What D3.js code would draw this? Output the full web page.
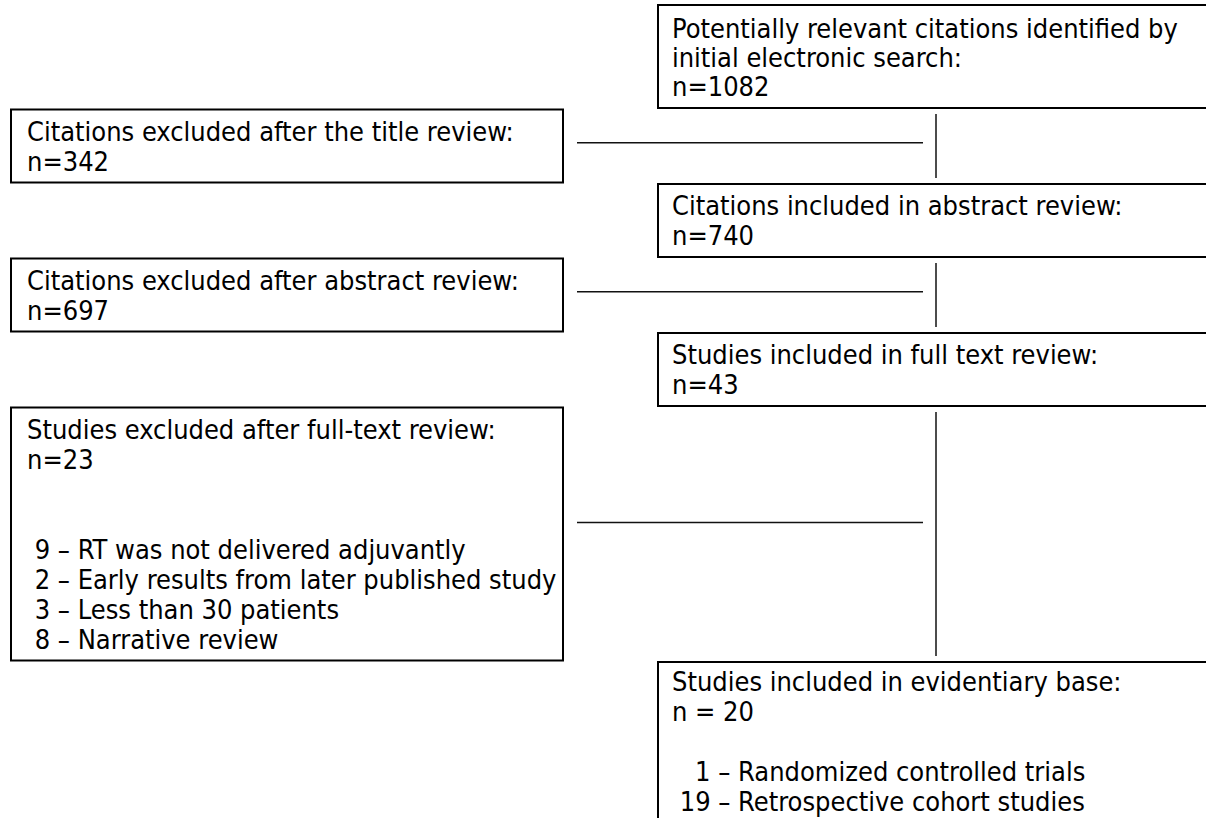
<!DOCTYPE html>
<html>
<head>
<meta charset="utf-8">
<script src="https://cdn.jsdelivr.net/npm/d3@7"></script>
<style>
  html, body { margin: 0; padding: 0; background: #fff; overflow: hidden; }
  svg { display: block; }
  text { font-family: "DejaVu Sans Condensed", "DejaVu Sans", sans-serif; fill: #000; white-space: pre; }
</style>
</head>
<body>
<div id="chart"></div>
<script>
// steps of the flow, top to bottom
const stepSide = ["right", "left", "right", "left", "right", "left", "right"];
const stepLines = [
  ["Potentially relevant citations identified by", "initial electronic search:", "n=1082"],
  ["Citations excluded after the title review:", "n=342"],
  ["Citations included in abstract review:", "n=740"],
  ["Citations excluded after abstract review:", "n=697"],
  ["Studies included in full text review:", "n=43"],
  ["Studies excluded after full-text review:", "n=23", "", "",
   " 9 – RT was not delivered adjuvantly",
   " 2 – Early results from later published study",
   " 3 – Less than 30 patients",
   " 8 – Narrative review"],
  ["Studies included in evidentiary base:", "n = 20", "",
   "   1 – Randomized controlled trials",
   " 19 – Retrospective cohort studies"]
];
// [kept step, excluded step, next kept step]
const links = [[0, 1, 2], [2, 3, 4], [4, 5, 6]];

const width = 1206, height = 818;
const lineH = 30, pad = 13, gap = 1.5;

const svg = d3.select("#chart").append("svg")
  .attr("width", width)
  .attr("height", height);

const x = d3.scaleOrdinal().domain(["left", "right"]).range([11, 658]);
const boxW = 552;

// stack the boxes like a staircase
let yPos = 5;
const boxes = stepLines.map((lines, i) => {
  const h = pad + lines.length * lineH;
  const b = { i, side: stepSide[i], lines, x: x(stepSide[i]), y: yPos, h };
  yPos += h + gap;
  return b;
});

// fit font size to the widest line of the first box
const probe = svg.append("text").style("font-size", "100px").text(stepLines[0][0]);
const fontSize = 100 * 506 / probe.node().getComputedTextLength();
probe.remove();

const g = svg.selectAll(".step")
  .data(boxes)
  .join("g")
  .attr("class", "step")
  .attr("transform", d => `translate(${d.x},${d.y})`);

g.append("rect")
  .attr("width", boxW)
  .attr("height", d => d.h)
  .attr("fill", "none")
  .attr("stroke", "#000")
  .attr("stroke-width", 2);

// first line sits a little lower in the top box, a little higher in the last
const firstLine = d => d.i === 0 ? 2 : d.i === boxes.length - 1 ? -2.5 : 0;

g.selectAll("text")
  .data(d => d.lines.map((t, k) => ({
    t, k,
    pad: d.side === "left" ? 16 : 14,
    off: firstLine(d),
    step: d.i === 0 ? 29 : lineH
  })))
  .join("text")
  .attr("x", d => d.pad)
  .attr("y", d => pad / 2 + lineH / 2 + d.off + d.step * d.k)
  .attr("dy", "0.36em")
  .style("font-size", fontSize + "px")
  .text(d => d.t);

// connectors
const vx = 936;
links.forEach(([a, e, b]) => {
  const A = boxes[a], E = boxes[e], B = boxes[b];
  const y1 = A.y + A.h + 6, y2 = B.y - 6;
  svg.append("line")
    .attr("x1", vx).attr("x2", vx)
    .attr("y1", y1).attr("y2", y2)
    .attr("stroke", "#111").attr("stroke-width", 1.5);
  // the side line sits a bit above the middle of the excluded box
  const hy = E.y + 0.455 * E.h;
  svg.append("line")
    .attr("x1", E.x + boxW + 14).attr("x2", vx - 13)
    .attr("y1", hy).attr("y2", hy)
    .attr("stroke", "#111").attr("stroke-width", 1.5);
});
</script>
</body>
</html>
